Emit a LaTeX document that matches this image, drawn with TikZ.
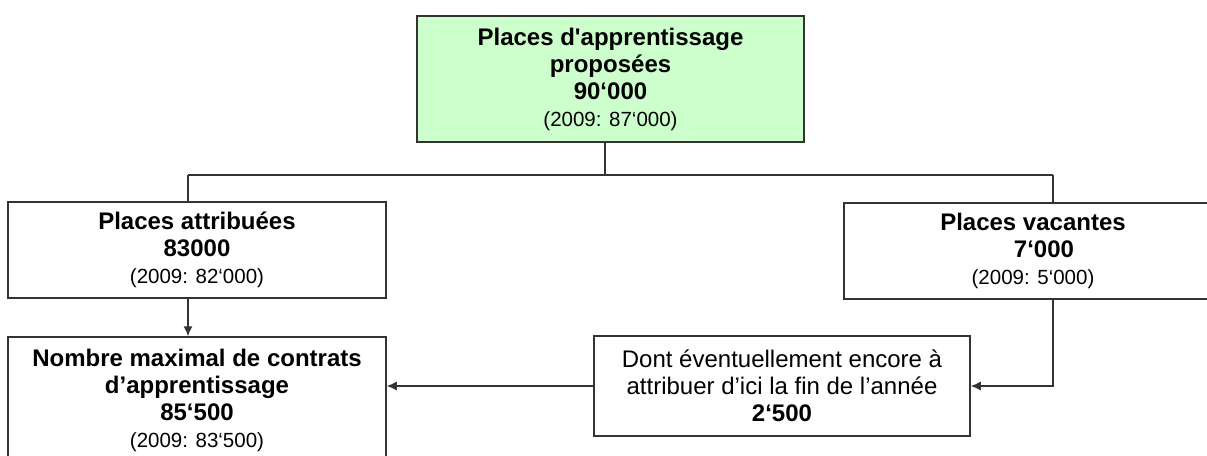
\documentclass[tikz,border=0pt]{standalone}
\usepackage{fontspec}
\newfontfamily\arialf{Liberation Sans}
\usetikzlibrary{arrows.meta}
\definecolor{boxgreen}{HTML}{CCFFCC}
\definecolor{linegray}{HTML}{333333}
\newcommand{\yrnote}[1]{{\fontsize{20.5}{25}\selectfont #1}}

\begin{document}
\begin{tikzpicture}[x=1pt,y=-1pt,
  box/.style={draw=linegray, line width=1.5pt, align=center, inner sep=0pt,
    font=\arialf\fontsize{24}{27}\selectfont},
  link/.style={draw=linegray, line width=1.3pt},
  tip/.style={link, -{Latex[length=10pt,width=9pt]}}]
\useasboundingbox (0,0) rectangle (1207,455);
% boxes
\node[box, fill=boxgreen, minimum width=387pt, minimum height=126pt] (offer) at (610.5,79)
  {\textbf{Places d'apprentissage}\\ \textbf{proposées}\\ \textbf{90‘000}\\ \yrnote{(2009: 87‘000)}};
\node[box, minimum width=378pt, minimum height=96pt] (given) at (197,250)
  {\textbf{Places attribuées}\\ \textbf{83000}\\ \yrnote{(2009: 82‘000)}};
\node[box, minimum width=400pt, minimum height=96pt] (vacant) at (1044,251)
  {\textbf{Places vacantes}\hspace*{22pt}\\ \textbf{7‘000}\hspace*{22pt}\\ \yrnote{(2009: 5‘000)}\hspace*{22pt}};
\node[box, minimum width=378pt, minimum height=126pt] (maxi) at (197,400)
  {\textbf{Nombre maximal de contrats}\\ \textbf{d’apprentissage}\\ \textbf{85‘500}\\ \yrnote{(2009: 83‘500)}};
\node[box, minimum width=376pt, minimum height=100pt] (still) at (782,386)
  {Dont éventuellement encore à\\ attribuer d’ici la fin de l’année\\ \textbf{2‘500}};
% connectors
\coordinate (busL) at (188,175);
\coordinate (busR) at (1053,175);
\coordinate (stem) at (605,175);
\draw[link] (stem |- offer.south) -- (stem);
\draw[link] (busL) -- (busR);
\draw[link] (busL) -- (busL |- given.north);
\draw[link] (busR) -- (busR |- vacant.north);
\draw[tip] (busL |- given.south) -- (busL |- maxi.north);
\draw[tip] (busR |- vacant.south) |- (still.east);
\draw[tip] (still.west) -- (still.west -| maxi.east);
\end{tikzpicture}
\end{document}
